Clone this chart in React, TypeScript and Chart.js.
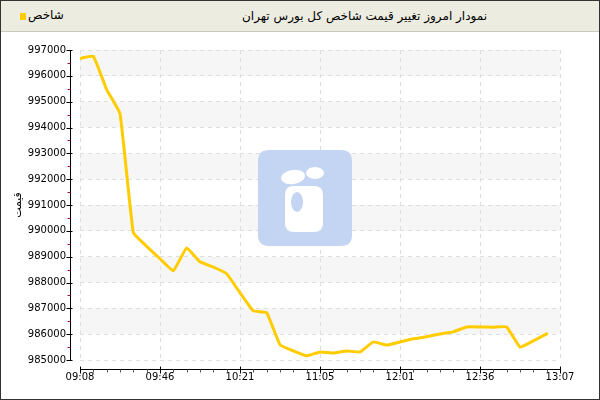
import React, { useEffect, useRef } from 'react';
import { Chart, registerables } from 'chart.js';

Chart.register(...registerables);

const chartTitle = 'نمودار امروز تغییر قیمت شاخص کل بورس تهران';
const seriesName = 'شاخص';
const yTitle = 'قیمت';
const tickLabels = ['09:08', '09:46', '10:21', '11:05', '12:01', '12:36', '13:07'];
const pointsPerLabel = 6;
const indexValues = [
  996670, 996760, 995470, 994540, 989930, 989400, 988920, 988450, 989340, 988800,
  988600, 988340, 987600, 986900, 986830, 985590, 985350, 985160, 985310, 985270,
  985350, 985310, 985700, 985580, 985700, 985820, 985900, 986010, 986090, 986280,
  986280, 986270, 986280, 985500, 985740, 986010,
];
const yMin = 985000;
const yMax = 997000;
const yStep = 1000;

const FONT = '"DejaVu Sans", sans-serif';
const LINE_COLOR = '#FFCC00';

const bandsPlugin = {
  id: 'bands',
  beforeDraw(chart: any) {
    const { ctx, chartArea } = chart;
    const y = chart.scales.y;
    ctx.save();
    ctx.fillStyle = '#F6F6F6';
    const n = Math.round((yMax - yMin) / yStep);
    for (let k = 0; k < n; k += 2) {
      const y1 = y.getPixelForValue(yMax - k * yStep);
      const y2 = y.getPixelForValue(yMax - (k + 1) * yStep);
      ctx.fillRect(chartArea.left, y1, chartArea.right - chartArea.left, y2 - y1);
    }
    ctx.restore();
  },
};

function roundRect(ctx: CanvasRenderingContext2D, x: number, y: number, w: number, h: number, r: number) {
  ctx.beginPath();
  ctx.moveTo(x + r, y);
  ctx.lineTo(x + w - r, y);
  ctx.quadraticCurveTo(x + w, y, x + w, y + r);
  ctx.lineTo(x + w, y + h - r);
  ctx.quadraticCurveTo(x + w, y + h, x + w - r, y + h);
  ctx.lineTo(x + r, y + h);
  ctx.quadraticCurveTo(x, y + h, x, y + h - r);
  ctx.lineTo(x, y + r);
  ctx.quadraticCurveTo(x, y, x + r, y);
  ctx.closePath();
}

const logoPlugin = {
  id: 'logo',
  beforeDatasetsDraw(chart: any) {
    const { ctx, chartArea } = chart;
    const cx = (chartArea.left + chartArea.right) / 2 - 15;
    const cy = (chartArea.top + chartArea.bottom) / 2 - 7;
    ctx.save();
    ctx.fillStyle = '#C4D5F3';
    roundRect(ctx, cx - 47, cy - 48, 94, 96, 11);
    ctx.fill();
    ctx.fillStyle = '#FFFFFF';
    ctx.beginPath();
    ctx.ellipse(cx - 12, cy - 21, 12, 7, -0.15, 0, Math.PI * 2);
    ctx.fill();
    roundRect(ctx, cx - 20, cy - 12, 38, 46, 9);
    ctx.fill();
    ctx.beginPath();
    ctx.ellipse(cx + 10, cy - 25, 9, 6, 0, 0, Math.PI * 2);
    ctx.fill();
    ctx.fillStyle = '#C4D5F3';
    ctx.beginPath();
    ctx.ellipse(cx - 8, cy + 4, 6, 10, 0, 0, Math.PI * 2);
    ctx.fill();
    ctx.restore();
  },
};

const axesPlugin = {
  id: 'axesLines',
  afterDraw(chart: any) {
    const { ctx, chartArea } = chart;
    const x = chart.scales.x;
    const y = chart.scales.y;
    const axisX = chartArea.left - 9.5;
    const axisY = chartArea.bottom + 9.5;
    ctx.save();
    ctx.lineWidth = 1;
    ctx.strokeStyle = '#000000';
    ctx.beginPath();
    ctx.moveTo(axisX, y.getPixelForValue(yMax));
    ctx.lineTo(axisX, y.getPixelForValue(yMin));
    ctx.stroke();
    for (let v = yMin; v <= yMax; v += yStep) {
      const py = Math.round(y.getPixelForValue(v)) + 0.5;
      ctx.beginPath();
      ctx.moveTo(axisX - 4, py);
      ctx.lineTo(axisX + 2, py);
      ctx.stroke();
    }
    ctx.strokeStyle = '#A01030';
    for (let v = yMin + yStep / 2; v < yMax; v += yStep) {
      const py = Math.round(y.getPixelForValue(v)) + 0.5;
      ctx.beginPath();
      ctx.moveTo(axisX - 3, py);
      ctx.lineTo(axisX, py);
      ctx.stroke();
    }
    const xMaxIdx = (tickLabels.length - 1) * pointsPerLabel;
    ctx.strokeStyle = '#000000';
    ctx.beginPath();
    ctx.moveTo(x.getPixelForValue(0), axisY);
    ctx.lineTo(x.getPixelForValue(xMaxIdx), axisY);
    ctx.stroke();
    for (let i = 0; i <= xMaxIdx; i++) {
      const px = Math.round(x.getPixelForValue(i)) + 0.5;
      ctx.beginPath();
      if (i % pointsPerLabel === 0) {
        ctx.strokeStyle = '#000000';
        ctx.moveTo(px, axisY - 3);
        ctx.lineTo(px, axisY + 4);
      } else {
        ctx.strokeStyle = '#555555';
        ctx.moveTo(px, axisY);
        ctx.lineTo(px, axisY + 3);
      }
      ctx.stroke();
    }
    ctx.restore();
  },
};

export default function App() {
  const canvasRef = useRef<HTMLCanvasElement | null>(null);

  useEffect(() => {
    document.body.style.margin = '0';
    const canvas = canvasRef.current;
    if (!canvas) return;
    const data = indexValues.map((v, i) => ({ x: i, y: v }));
    const chart = new Chart(canvas, {
      type: 'line',
      data: {
        datasets: [
          {
            label: seriesName,
            data,
            borderColor: LINE_COLOR,
            backgroundColor: LINE_COLOR,
            borderWidth: 3,
            pointRadius: 0,
            tension: 0.1,
            borderJoinStyle: 'round',
            borderCapStyle: 'round',
          },
        ],
      },
      options: {
        responsive: false,
        animation: false,
        events: [],
        layout: { padding: { top: 50, right: 40, left: 0, bottom: 0 } },
        plugins: {
          legend: { display: false },
          title: { display: false },
          tooltip: { enabled: false },
        },
        scales: {
          x: {
            type: 'linear',
            min: 0,
            max: (tickLabels.length - 1) * pointsPerLabel,
            afterFit(scale: any) {
              scale.height = 40;
            },
            ticks: {
              stepSize: pointsPerLabel,
              padding: 11,
              color: '#000000',
              font: { family: FONT, size: 10 },
              maxRotation: 0,
              callback: (value: any) => {
                const k = Math.round(Number(value) / pointsPerLabel);
                return tickLabels[k] ?? '';
              },
            },
            grid: {
              color: '#DEDEDE',
              drawTicks: false,
              lineWidth: 1,
            },
            border: { display: false, dash: [4, 4] },
          },
          y: {
            type: 'linear',
            min: yMin,
            max: yMax,
            afterFit(scale: any) {
              scale.width = 80;
            },
            ticks: {
              stepSize: yStep,
              padding: 14,
              color: '#000000',
              font: { family: FONT, size: 10 },
              callback: (value: any) => String(value),
            },
            grid: {
              color: '#DEDEDE',
              drawTicks: false,
              lineWidth: 1,
            },
            border: { display: false, dash: [4, 4] },
            title: {
              display: true,
              text: yTitle,
              color: '#000000',
              font: { family: FONT, size: 11 },
              padding: { top: 12, bottom: 0 },
            },
          },
        },
      },
      plugins: [bandsPlugin, logoPlugin, axesPlugin],
    });
    return () => chart.destroy();
  }, []);

  return (
    <div style={{ position: 'relative', width: 600, height: 400, background: '#FFFFFF', overflow: 'hidden' }}>
      <canvas ref={canvasRef} width={600} height={400} style={{ position: 'absolute', left: 0, top: 0, width: 600, height: 400 }} />
      <div
        style={{
          position: 'absolute',
          left: 0,
          top: 0,
          width: 600,
          height: 32,
          boxSizing: 'border-box',
          background: '#ECECE0',
          borderBottom: '1px solid #C9C9BC',
          fontFamily: FONT,
          fontSize: 12,
          color: '#000000',
        }}
      >
        <span
          style={{
            position: 'absolute',
            left: 20,
            top: 13,
            width: 6,
            height: 7,
            background: LINE_COLOR,
          }}
        />
        <span dir="rtl" style={{ position: 'absolute', left: 28, top: 8, fontSize: 12, lineHeight: '14px' }}>
          {seriesName}
        </span>
        <span dir="rtl" style={{ position: 'absolute', right: 113, top: 9, fontSize: 12, lineHeight: '14px' }}>
          {chartTitle}
        </span>
      </div>
      <div
        style={{
          position: 'absolute',
          left: 0,
          top: 0,
          width: 600,
          height: 400,
          boxSizing: 'border-box',
          border: '1px solid #333333',
          pointerEvents: 'none',
        }}
      />
    </div>
  );
}
